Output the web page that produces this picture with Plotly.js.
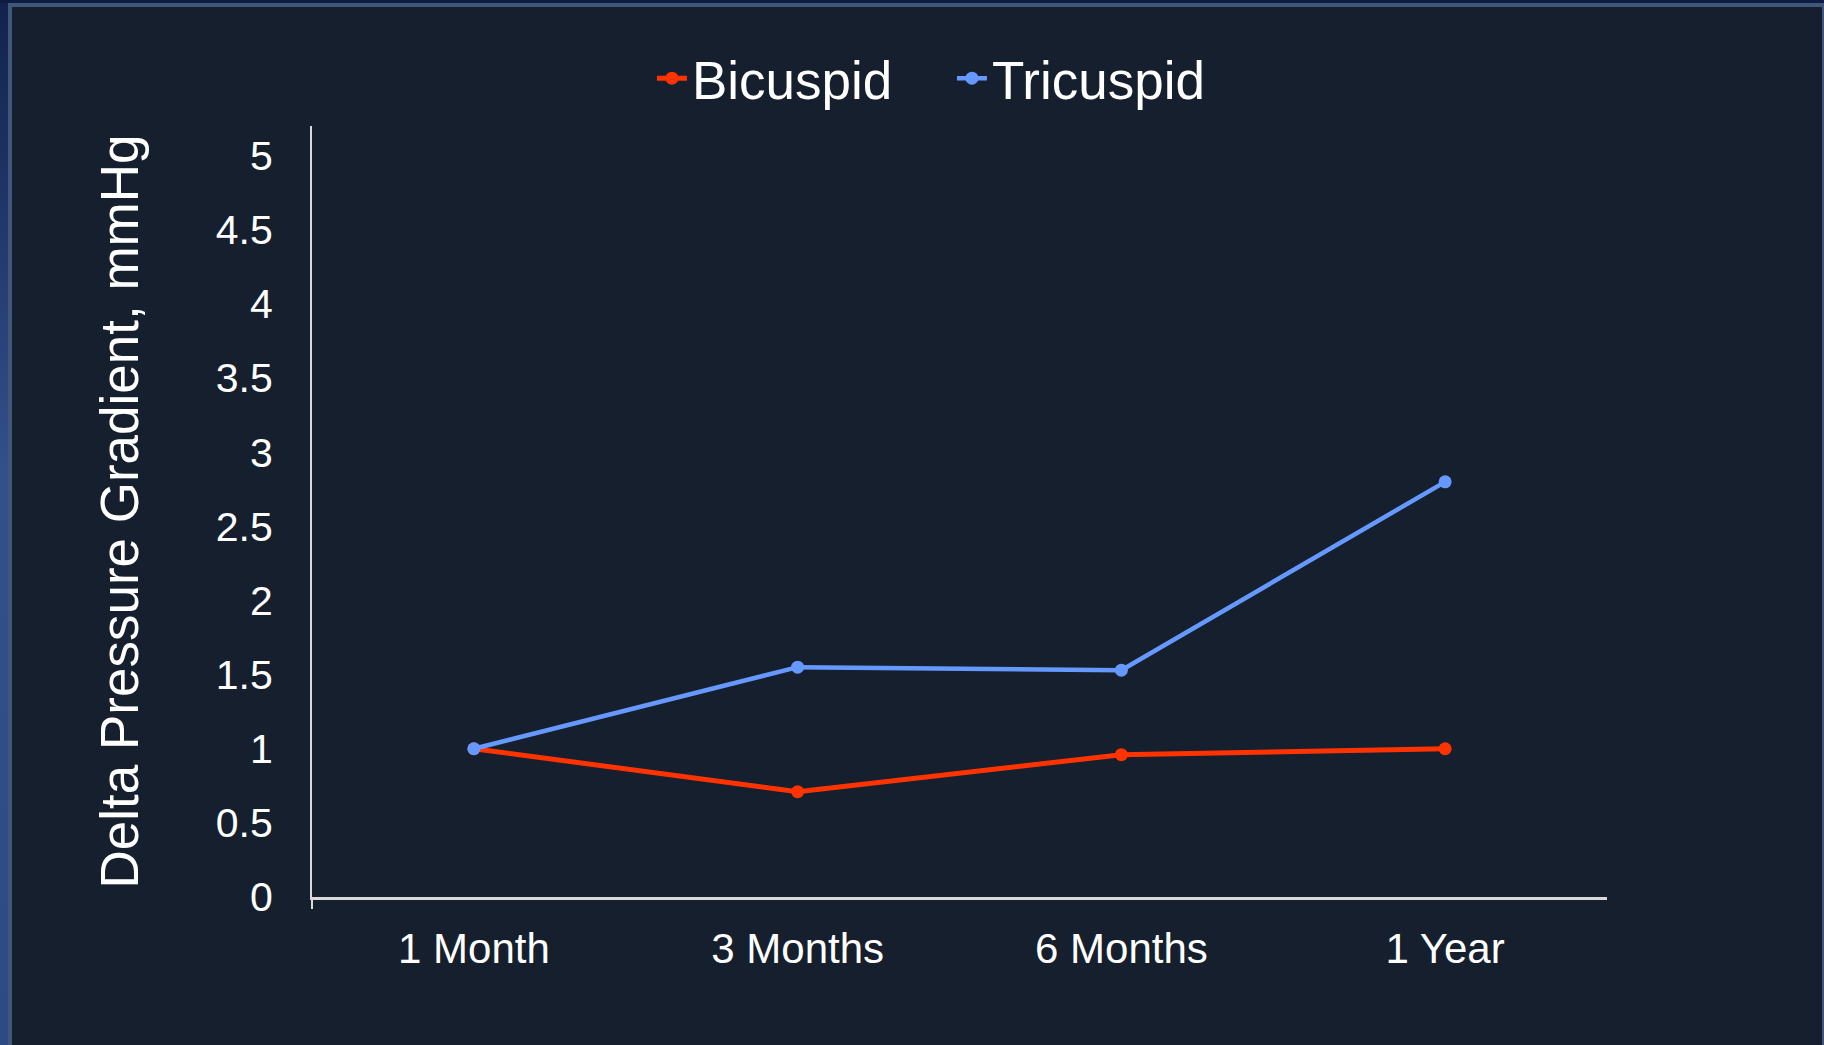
<!DOCTYPE html>
<html>
<head>
<meta charset="utf-8">
<script src="https://cdn.plot.ly/plotly-3.0.1.min.js"></script>
<style>
  html, body { margin: 0; padding: 0; width: 1824px; height: 1045px; overflow: hidden; background: #161f2e; }
  #frame { position: absolute; left: 0; top: 0; width: 1824px; height: 1045px; background: #161f2e; }
  #leftband { position: absolute; left: 0; top: 0; width: 8px; height: 1045px;
    background: linear-gradient(to bottom, #12224c 0%, #33508c 45%, #2d4a86 100%); }
  #leftline { position: absolute; left: 8px; top: 3px; width: 4px; height: 1042px; background: #3f587a; }
  #topband { position: absolute; left: 0; top: 0; width: 1824px; height: 3px; background: #0f1c42; }
  #topline { position: absolute; left: 8px; top: 3px; width: 1816px; height: 4px; background: #3f587a; }
  #rightline { position: absolute; left: 1822px; top: 3px; width: 2px; height: 1042px; background: #3f587a; }
  #chart { position: absolute; left: 12px; top: 7px; width: 1810px; height: 1038px; }
</style>
</head>
<body>
<div id="frame">
  <div id="leftband"></div>
  <div id="topband"></div>
  <div id="leftline"></div>
  <div id="topline"></div>
  <div id="rightline"></div>
  <div id="chart"></div>
</div>
<script>
const categories = ['1 Month', '3 Months', '6 Months', '1 Year'];
const bicuspid = [1.0, 0.71, 0.96, 1.0];
const tricuspid = [1.0, 1.55, 1.53, 2.8];
const yTickVals = [0, 0.5, 1, 1.5, 2, 2.5, 3, 3.5, 4, 4.5, 5];
const yTickText = ['0', '0.5', '1', '1.5', '2', '2.5', '3', '3.5', '4', '4.5', '5'];
const seriesNames = ['Bicuspid', 'Tricuspid'];

const FONT = 'Liberation Sans, Arial, sans-serif';
const AXIS = '#d9d9d9';

const traces = [
  {
    type: 'scatter', mode: 'lines+markers', name: seriesNames[0],
    x: categories, y: bicuspid,
    line: { color: '#ff3300', width: 5 },
    marker: { color: '#ff3300', size: 13 }
  },
  {
    type: 'scatter', mode: 'lines+markers', name: seriesNames[1],
    x: categories, y: tricuspid,
    line: { color: '#6699ff', width: 4.5 },
    marker: { color: '#6699ff', size: 13 }
  }
];

const layout = {
  width: 1810, height: 1038,
  paper_bgcolor: '#161f2e', plot_bgcolor: '#161f2e',
  margin: { l: 300, r: 215, t: 119, b: 148 },
  font: { family: FONT, color: '#ffffff' },
  showlegend: true,
  legend: {
    orientation: 'h', x: 0.2625, xanchor: 'left', y: 1.062, yanchor: 'middle',
    entrywidth: 255, entrywidthmode: 'pixels',
    font: { family: FONT, size: 53, color: '#ffffff' },
    bgcolor: 'rgba(0,0,0,0)'
  },
  xaxis: {
    type: 'category', range: [-0.5, 3.5],
    showline: true, linecolor: AXIS, linewidth: 2.5,
    showgrid: false, zeroline: false, ticks: '',
    tickfont: { family: FONT, size: 42, color: '#ffffff' },
    ticklabelstandoff: 13
  },
  yaxis: {
    range: [0, 5.2],
    showline: true, linecolor: AXIS, linewidth: 2,
    showgrid: false, zeroline: false, ticks: '',
    tickvals: yTickVals, ticktext: yTickText,
    tickfont: { family: FONT, size: 41, color: '#ffffff' },
    ticklabelstandoff: 29,
    title: { text: 'Delta Pressure Gradient, mmHg', font: { family: FONT, size: 53, color: '#ffffff' }, standoff: 60 }
  },
  shapes: [
    { type: 'line', xref: 'paper', yref: 'paper', x0: 0, x1: 0, y0: 0, y1: -0.0156,
      line: { color: AXIS, width: 2 } }
  ]
};

Plotly.newPlot('chart', traces, layout, { staticPlot: true, displayModeBar: false });
</script>
</body>
</html>
